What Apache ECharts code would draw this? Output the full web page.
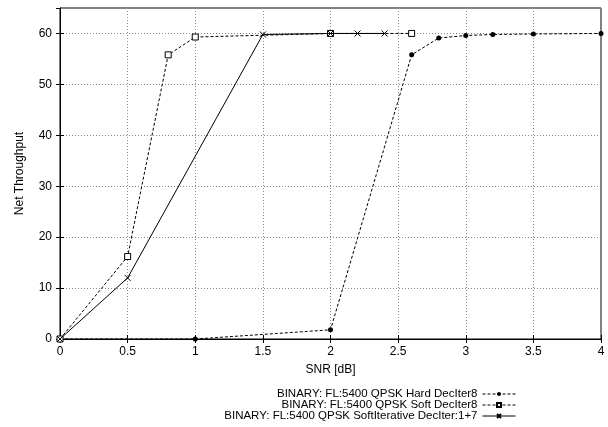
<!DOCTYPE html>
<html>
<head>
<meta charset="utf-8">
<script src="https://cdn.jsdelivr.net/npm/echarts@6/dist/echarts.min.js"></script>
<style>html,body{margin:0;padding:0;background:#fff}#c{width:608px;height:427px}</style>
</head>
<body>
<div id="c"></div>
<script>
const seriesNames = [
  'BINARY: FL:5400 QPSK Hard DecIter8',
  'BINARY: FL:5400 QPSK Soft DecIter8',
  'BINARY: FL:5400 QPSK SoftIterative DecIter:1+7'
];
const hardX = [0, 1, 2, 2.6, 2.8, 3, 3.2, 3.5, 4];
const hardY = [0, 0, 1.8, 55.8, 59.1, 59.6, 59.8, 59.9, 60];
const softX = [0, 0.5, 0.8, 1, 2, 2.6];
const softY = [0, 16.2, 55.8, 59.3, 60, 60];
const iterX = [0, 0.5, 1.5, 2, 2.2, 2.4];
const iterY = [0, 12, 59.8, 60, 60, 60];
const xTicks = [0, 0.5, 1, 1.5, 2, 2.5, 3, 3.5, 4];
const yTicks = [0, 10, 20, 30, 40, 50, 60];

const zip = (a, b) => a.map((v, i) => [v, b[i]]);
const font = 'Liberation Sans, Arial, Helvetica, sans-serif';
const chart = echarts.init(document.getElementById('c'), null, {renderer: 'canvas'});

const legendTops = [388, 399, 410];
const legends = seriesNames.map((n, i) => ({
  data: [n], orient: 'horizontal', right: 92, top: legendTops[i], align: 'right',
  itemWidth: 33, itemHeight: 5, itemGap: 0, padding: 0, selectedMode: false,
  lineStyle: {width: 1},
  textStyle: {fontFamily: font, fontSize: 11.5, lineHeight: 11, color: '#000', padding: [0, 0, 0, 0]}
}));

chart.setOption({
  animation: false,
  backgroundColor: '#fff',
  grid: {left: 60, right: 7, top: 8, bottom: 88, show: true, borderColor: '#000', borderWidth: 1, containLabel: false},
  legend: legends,
  xAxis: [{
    type: 'value', min: xTicks[0], max: xTicks[xTicks.length - 1], interval: 0.5,
    name: 'SNR [dB]', nameLocation: 'middle', nameGap: 25,
    nameTextStyle: {fontFamily: font, fontSize: 12, color: '#000'},
    axisLine: {lineStyle: {color: '#000', width: 1}},
    axisTick: {inside: true, length: 4, lineStyle: {color: '#000'}},
    axisLabel: {fontFamily: font, fontSize: 12, color: '#000', margin: 7, showMaxLabel: true, showMinLabel: true},
    splitLine: {show: true, lineStyle: {color: '#888', type: [1, 2], width: 1}}
  }, {
    type: 'value', position: 'top', min: xTicks[0], max: xTicks[xTicks.length - 1], interval: 0.5,
    axisLine: {show: false}, axisTick: {inside: true, length: 4, lineStyle: {color: '#000'}},
    axisLabel: {show: false}, splitLine: {show: false}
  }],
  yAxis: [{
    type: 'value', min: 0, max: 65, interval: 10,
    name: 'Net Throughput', nameLocation: 'middle', nameGap: 34, nameRotate: 90,
    nameTextStyle: {fontFamily: font, fontSize: 12, color: '#000'},
    axisLine: {show: true, lineStyle: {color: '#000', width: 1}},
    axisTick: {inside: true, length: 4, lineStyle: {color: '#000'}},
    axisLabel: {fontFamily: font, fontSize: 12, color: '#000', margin: 8, showMaxLabel: false},
    splitLine: {show: true, lineStyle: {color: '#888', type: [1, 2], width: 1}}
  }, {
    type: 'value', position: 'right', min: 0, max: 65, interval: 10,
    axisLine: {show: false}, axisTick: {inside: true, length: 4, lineStyle: {color: '#000'}},
    axisLabel: {show: false}, splitLine: {show: false}
  }],
  series: [{
    name: seriesNames[0], type: 'line', data: zip(hardX, hardY),
    symbol: 'circle', symbolSize: 5, showAllSymbol: true,
    lineStyle: {color: '#000', width: 1, type: [3, 2]},
    itemStyle: {color: '#000'}, z: 3
  }, {
    name: seriesNames[1], type: 'line', data: zip(softX, softY),
    symbol: 'rect', symbolSize: 6, showAllSymbol: true,
    lineStyle: {color: '#000', width: 1, type: [3, 2]},
    itemStyle: {color: '#fff', borderColor: '#000', borderWidth: 1}, z: 4
  }, {
    name: seriesNames[2], type: 'line', data: zip(iterX, iterY),
    symbol: 'path://M0,0L10,10M10,0L0,10', symbolSize: 6, showAllSymbol: true,
    lineStyle: {color: '#000', width: 1, type: 'solid'},
    itemStyle: {color: 'none', borderColor: '#000', borderWidth: 1}, z: 5
  }]
});
</script>
</body>
</html>
